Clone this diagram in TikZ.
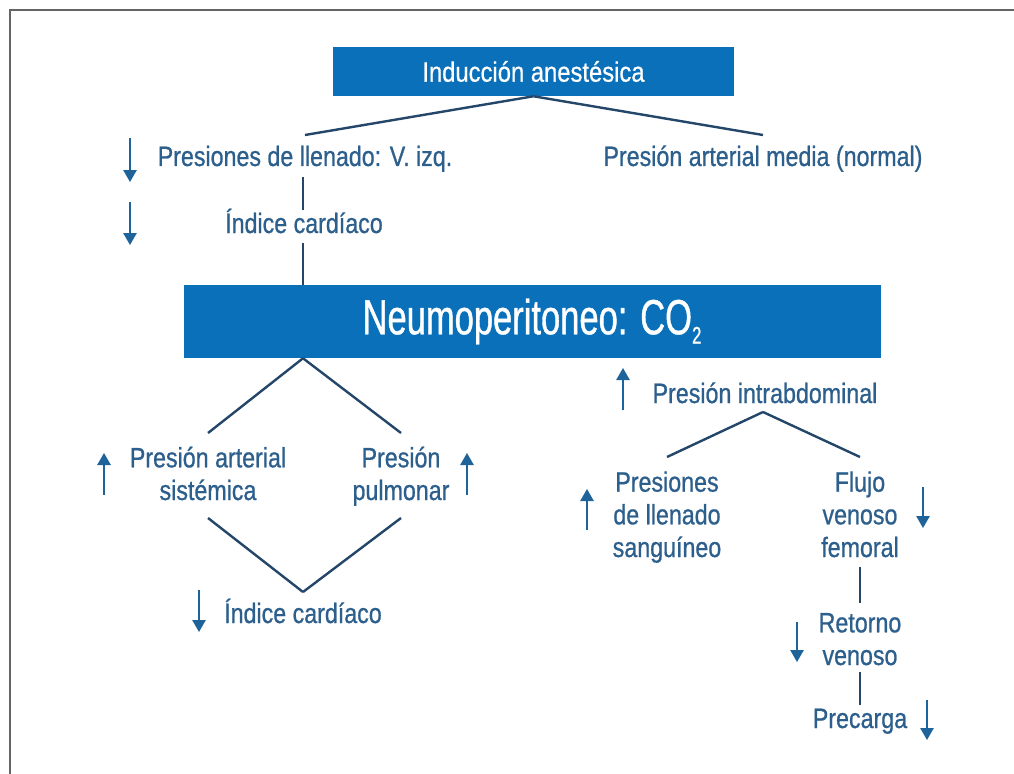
\documentclass[tikz,border=0pt]{standalone}
\usepackage{fontspec}
\setmainfont{Liberation Sans}
\newfontfamily\bodyf[FakeStretch=0.83,FakeBold=0.8]{Liberation Sans}
\newfontfamily\titlef[FakeStretch=0.70,FakeBold=0.8]{Liberation Sans}
\newfontfamily\indf[FakeStretch=0.85,FakeBold=0.6]{Liberation Sans}
\usetikzlibrary{arrows.meta,calc}
\definecolor{boxblue}{RGB}{10,112,186}
\definecolor{txtblue}{RGB}{45,95,140}
\definecolor{arrblue}{RGB}{30,100,155}
\definecolor{linecol}{RGB}{35,70,105}
\definecolor{framegray}{RGB}{100,100,100}
\tikzset{
  bluebox/.style={fill=boxblue, draw=none, text=white, inner sep=0pt},
  lbl/.style={text=txtblue, inner sep=0pt, anchor=base, align=center,
    font=\bodyf\fontsize{21}{24.5}\selectfont},
  conn/.style={draw=linecol, line width=1.8pt},
  upd/.style={draw=arrblue, line width=1.3pt, -{Triangle[length=9pt,width=10pt]}},
}
\begin{document}
\begin{tikzpicture}[x=0.75pt,y=-0.75pt]
\useasboundingbox (0,0) rectangle (1014,774);
% frame
\draw[framegray, line width=2pt] (1014,10) -- (10,10) -- (10,774);

% boxes
\node[bluebox, minimum width=300.75pt, minimum height=36.75pt,
      font=\indf\fontsize{21}{24}\selectfont] (ind) at (533.5,71.5) {Inducción anestésica};
\node[bluebox, minimum width=522.75pt, minimum height=54.75pt,
      font=\titlef\fontsize{37}{40}\selectfont] (neu) at (532,321.5)
      {Neumoperitoneo: CO\raisebox{-7pt}{\fontsize{18}{18}\selectfont 2}};

% labels (base = baseline of the last line)
\node[lbl] (pll) at (305,166) {Presiones de llenado: V. izq.};
\node[lbl] (pam) at (763,166) {Presión arterial media (normal)};
\node[lbl] (ic1) at (304,233) {Índice cardíaco};
\node[lbl] (pas) at (208,500) {Presión arterial\\sistémica};
\node[lbl] (pp)  at (401,500) {Presión\\pulmonar};
\node[lbl] (ic2) at (303,623) {Índice cardíaco};
\node[lbl] (pia) at (765,403) {Presión intrabdominal};
\node[lbl] (pls) at (667,557) {Presiones\\de llenado\\sanguíneo};
\node[lbl] (flu) at (860,557) {Flujo\\venoso\\femoral};
\node[lbl] (ret) at (860,665) {Retorno\\venoso};
\node[lbl] (pre) at (860,728) {Precarga};

% connectors
\draw[conn] (ind.south) -- ($(pll.base)+(0,-31)$);
\draw[conn] (ind.south) -- ($(pam.base)+(0,-31)$);
\draw[conn] ($(pll.base)+(-2,11)$) -- ($(ic1.base)+(-1,-23)$);
\draw[conn] ($(ic1.base)+(-1,10)$) -- ($(ic1.base |- neu.north)+(-1,0)$);
\draw[conn] (ic2.base |- neu.south) -- ($(pas.base)+(0,-67)$);
\draw[conn] (ic2.base |- neu.south) -- ($(pp.base)+(0,-67)$);
\draw[conn] ($(pas.base)+(0,18)$) -- ($(ic2.base)+(0,-31)$);
\draw[conn] ($(pp.base)+(0,18)$) -- ($(ic2.base)+(0,-31)$);
\draw[conn] ($(pia.base)+(-2,9)$) -- ($(pls.base)+(0,-100)$);
\draw[conn] ($(pia.base)+(-2,9)$) -- ($(flu.base)+(0,-100)$);
\draw[conn] ($(flu.base)+(0,10)$) -- ($(ret.base)+(0,-62)$);
\draw[conn] ($(ret.base)+(0,7)$) -- ($(pre.base)+(0,-23)$);

% up/down indicator arrows
\draw[upd] (130,138) -- (130,182);
\draw[upd] (130,202) -- (130,245);
\draw[upd] (104,495) -- (104,453);
\draw[upd] (467,495) -- (467,453);
\draw[upd] (199,590) -- (199,632);
\draw[upd] (623,410) -- (623,368);
\draw[upd] (587,530) -- (587,489);
\draw[upd] (923,487) -- (923,528);
\draw[upd] (797,622) -- (797,662);
\draw[upd] (927,700) -- (927,740);
\end{tikzpicture}
\end{document}
